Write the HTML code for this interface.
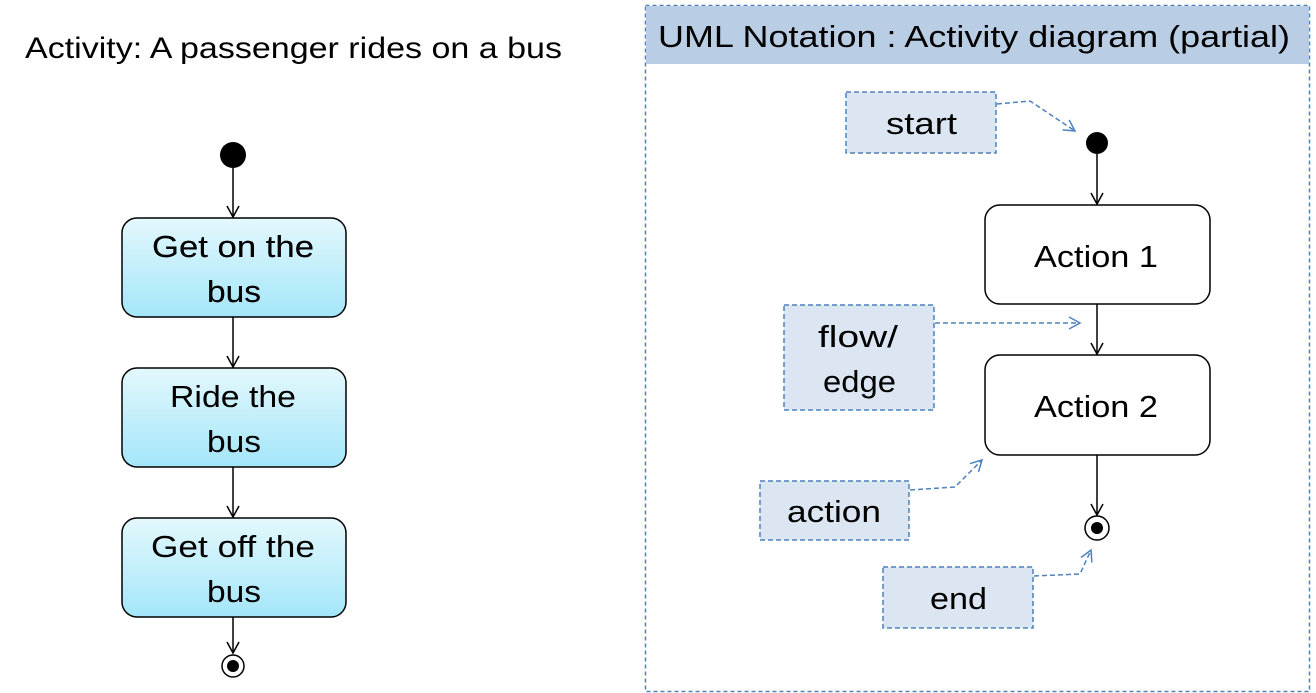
<!DOCTYPE html>
<html><head><meta charset="utf-8"><style>
html,body{margin:0;padding:0;background:#fff;}
svg{display:block;font-family:"Liberation Sans",sans-serif;}
</style></head><body>
<svg width="1316" height="693" viewBox="0 0 1316 693" xmlns="http://www.w3.org/2000/svg">
<defs>
<linearGradient id="g" x1="0" y1="0" x2="0" y2="1">
<stop offset="0" stop-color="#e4f8fd"/><stop offset="1" stop-color="#a3e6f9"/>
</linearGradient>
<marker id="a" markerWidth="14" markerHeight="14" refX="12" refY="7" orient="auto" markerUnits="userSpaceOnUse">
<path d="M1,1 L12,7 L1,13" fill="none" stroke="#000" stroke-width="1.5"/></marker>
<marker id="b" markerWidth="14" markerHeight="14" refX="12" refY="7" orient="auto" markerUnits="userSpaceOnUse">
<path d="M1,1 L12,7 L1,13" fill="none" stroke="#4f81bd" stroke-width="1.5"/></marker>
</defs>
<text x="25" y="58" font-size="30" textLength="537" lengthAdjust="spacingAndGlyphs">Activity: A passenger rides on a bus</text>
<circle cx="233" cy="155" r="13" fill="#000"/>
<line x1="233" y1="168" x2="233" y2="217" stroke="#000" stroke-width="1.5" marker-end="url(#a)"/>
<rect x="122" y="218" width="224" height="99" rx="15" fill="url(#g)" stroke="#000" stroke-width="1.5"/>
<g font-size="31">
<text x="152" y="257" textLength="162" lengthAdjust="spacingAndGlyphs">Get on the</text>
<text x="207" y="302" textLength="54" lengthAdjust="spacingAndGlyphs">bus</text>
<text x="170" y="407" textLength="126" lengthAdjust="spacingAndGlyphs">Ride the</text>
<text x="207" y="452" textLength="54" lengthAdjust="spacingAndGlyphs">bus</text>
<text x="151" y="557" textLength="164" lengthAdjust="spacingAndGlyphs">Get off the</text>
<text x="207" y="602" textLength="54" lengthAdjust="spacingAndGlyphs">bus</text>
</g>
<line x1="233" y1="317" x2="233" y2="367" stroke="#000" stroke-width="1.5" marker-end="url(#a)"/>
<rect x="122" y="368" width="224" height="99" rx="15" fill="url(#g)" stroke="#000" stroke-width="1.5"/>
<line x1="233" y1="467" x2="233" y2="517" stroke="#000" stroke-width="1.5" marker-end="url(#a)"/>
<rect x="122" y="518" width="224" height="99" rx="15" fill="url(#g)" stroke="#000" stroke-width="1.5"/>
<g font-size="31">
<text x="152" y="257" textLength="162" lengthAdjust="spacingAndGlyphs">Get on the</text>
<text x="207" y="302" textLength="54" lengthAdjust="spacingAndGlyphs">bus</text>
<text x="170" y="407" textLength="126" lengthAdjust="spacingAndGlyphs">Ride the</text>
<text x="207" y="452" textLength="54" lengthAdjust="spacingAndGlyphs">bus</text>
<text x="151" y="557" textLength="164" lengthAdjust="spacingAndGlyphs">Get off the</text>
<text x="207" y="602" textLength="54" lengthAdjust="spacingAndGlyphs">bus</text>
</g>
<line x1="233" y1="617" x2="233" y2="653" stroke="#000" stroke-width="1.5" marker-end="url(#a)"/>
<circle cx="233" cy="666" r="11" fill="#fff" stroke="#000" stroke-width="1.5"/>
<circle cx="233" cy="666" r="6" fill="#000"/>

<rect x="645.5" y="5.5" width="664" height="686" fill="#fff" stroke="#4f81bd" stroke-width="1.5" stroke-dasharray="4,3"/>
<rect x="646" y="6" width="663" height="58" fill="#b9cde5"/>
<text x="658" y="47" font-size="31" textLength="632" lengthAdjust="spacingAndGlyphs">UML Notation :  Activity diagram (partial)</text>

<circle cx="1097" cy="143" r="11" fill="#000"/>
<line x1="1097" y1="154" x2="1097" y2="204" stroke="#000" stroke-width="1.5" marker-end="url(#a)"/>
<rect x="985" y="205" width="225" height="99" rx="15" fill="#fff" stroke="#000" stroke-width="1.5"/>
<line x1="1097" y1="304" x2="1097" y2="354" stroke="#000" stroke-width="1.5" marker-end="url(#a)"/>
<rect x="985" y="355" width="225" height="100" rx="15" fill="#fff" stroke="#000" stroke-width="1.5"/>
<line x1="1097" y1="455" x2="1097" y2="515" stroke="#000" stroke-width="1.5" marker-end="url(#a)"/>
<circle cx="1097" cy="528" r="12" fill="#fff" stroke="#000" stroke-width="1.5"/>
<circle cx="1097" cy="528" r="6" fill="#000"/>

<g fill="#dce6f2" stroke="#4f81bd" stroke-width="1.5" stroke-dasharray="5,3">
<rect x="846" y="92" width="150" height="61"/>
<rect x="784" y="305" width="150" height="105"/>
<rect x="760" y="481" width="149" height="59"/>
<rect x="883" y="567" width="150" height="61"/>
</g>
<g font-size="31">
<text x="1034" y="267" textLength="124" lengthAdjust="spacingAndGlyphs">Action 1</text>
<text x="1034" y="417" textLength="124" lengthAdjust="spacingAndGlyphs">Action 2</text>
<text x="886" y="134" textLength="71" lengthAdjust="spacingAndGlyphs">start</text>
<text x="818" y="347" textLength="80" lengthAdjust="spacingAndGlyphs">flow/</text>
<text x="823" y="392" textLength="73" lengthAdjust="spacingAndGlyphs">edge</text>
<text x="787" y="522" textLength="94" lengthAdjust="spacingAndGlyphs">action</text>
<text x="930" y="609" textLength="57" lengthAdjust="spacingAndGlyphs">end</text>
</g>
<g fill="none" stroke="#4f81bd" stroke-width="1.5" stroke-dasharray="5,3">
<polyline points="997,104 1030,101 1075,131" marker-end="url(#b)"/>
<polyline points="935,323 1080,323" marker-end="url(#b)"/>
<polyline points="910,490 955,487 982,460" marker-end="url(#b)"/>
<polyline points="1034,576 1080,574 1091,550" marker-end="url(#b)"/>
</g>
</svg>
</body></html>
